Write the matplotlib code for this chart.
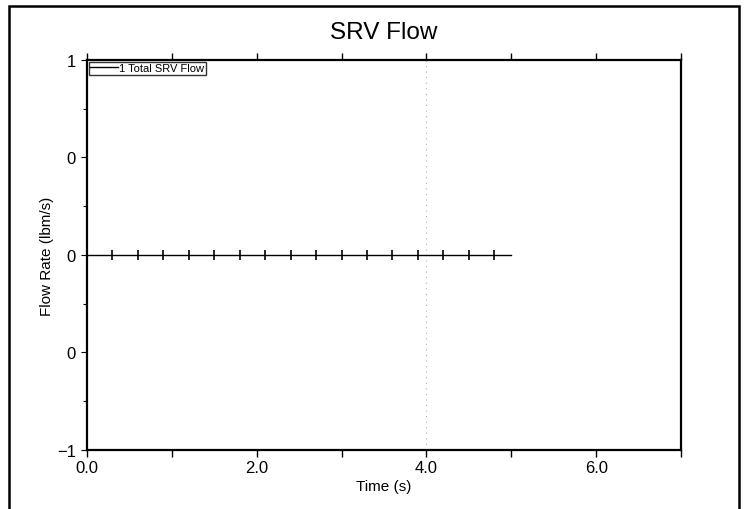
import numpy as np
import matplotlib
matplotlib.use("Agg")
import matplotlib.pyplot as plt
from matplotlib.patches import Rectangle
from matplotlib.ticker import FixedLocator, FixedFormatter

plt.rcParams['font.family'] = ['Liberation Sans', 'DejaVu Sans']

# Total SRV flow: zero throughout the transient (sampled every 0.3 s up to 5.0 s)
series_name = "1 Total SRV Flow"
time_s = [0.0, 0.3, 0.6, 0.9, 1.2, 1.5, 1.8, 2.1, 2.4, 2.7, 3.0, 3.3, 3.6,
          3.9, 4.2, 4.5, 4.8, 5.0]
flow_lbm_s = [0.0] * len(time_s)
marker_times = time_s[1:-1]
marker_flow = flow_lbm_s[1:-1]

x_ticks = [0, 1, 2, 3, 4, 5, 6, 7]
x_tick_labels = ["0.0", "", "2.0", "", "4.0", "", "6.0", ""]
y_ticks = [-1.0, -0.5, 0.0, 0.5, 1.0]
y_tick_labels = ["\u22121", "0", "0", "0", "1"]
y_minor = [-0.75, -0.25, 0.25, 0.75]

fig = plt.figure(figsize=(7.46, 5.10), dpi=100)
ax = fig.add_axes([0.1166, 0.1157, 0.7963, 0.7647])

# faint dotted grid line at 4 s
ax.axvline(4.0, color="#b0b0b0", lw=0.8, ls=(0, (1, 4)), zorder=0)

line, = ax.plot(time_s, flow_lbm_s, color="black", lw=1.0, label=series_name)
ax.plot(marker_times, marker_flow, ls="none", marker="|", ms=7, mew=1.2,
        color="black")

ax.set_xlim(0, 7)
ax.set_ylim(-1, 1)
ax.xaxis.set_major_locator(FixedLocator(x_ticks))
ax.xaxis.set_major_formatter(FixedFormatter(x_tick_labels))
ax.yaxis.set_major_locator(FixedLocator(y_ticks))
ax.yaxis.set_major_formatter(FixedFormatter(y_tick_labels))
ax.yaxis.set_minor_locator(FixedLocator(y_minor))

ax.tick_params(axis="x", which="major", direction="out", length=5, width=1,
               top=True, labelsize=12, pad=2)
ax.tick_params(axis="y", which="major", direction="out", length=4, width=0.8,
               labelsize=12, pad=4)
ax.tick_params(axis="y", which="minor", direction="out", length=3, width=0.8)

for s in ax.spines.values():
    s.set_linewidth(1.6)
    s.set_color("black")

ax.set_title("SRV Flow", fontsize=17.5, pad=16)
ax.set_xlabel("Time (s)", fontsize=11, labelpad=3)
ax.set_ylabel("Flow Rate (lbm/s)", fontsize=11, labelpad=2)

leg = ax.legend(handles=[line], loc="upper left", fontsize=8,
                frameon=True, fancybox=False, borderpad=0.15,
                handlelength=2.5, handletextpad=0.1, borderaxespad=0.15)
leg.get_frame().set_edgecolor("black")
leg.get_frame().set_linewidth(1.0)

# page border around the figure
fig.patches.append(Rectangle((9 / 746, -0.02), (739 - 9) / 746, 1.02 - 7 / 510,
                             transform=fig.transFigure, fill=False,
                             edgecolor="black", lw=1.8))

fig.savefig("out.png", dpi=100)
